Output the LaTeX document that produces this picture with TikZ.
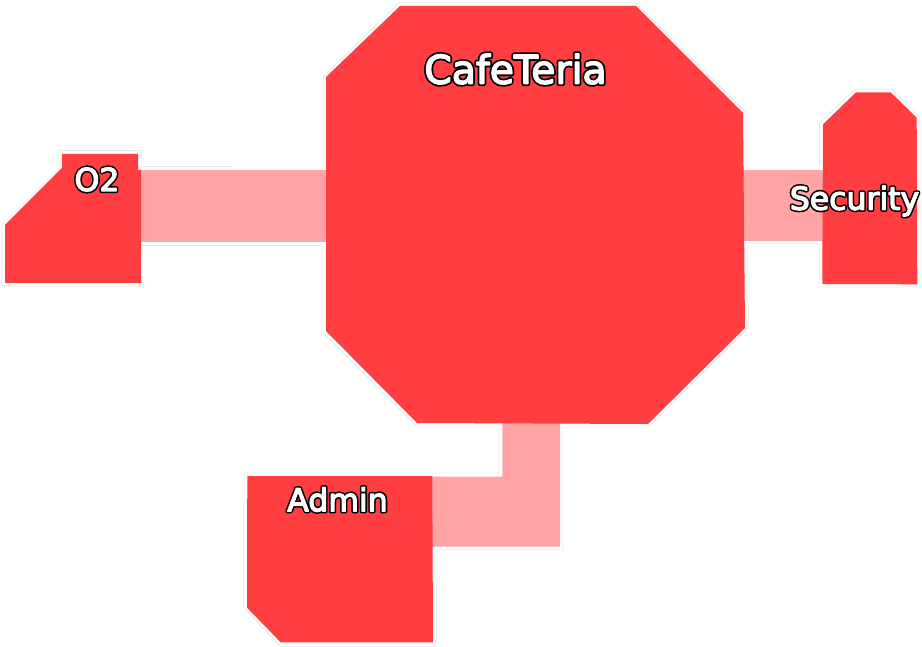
\documentclass[tikz,border=0pt]{standalone}
\usepackage{fontspec}
\setmainfont{DejaVu Sans}
\definecolor{roomred}{HTML}{FF3E42}
\definecolor{hallpink}{HTML}{FFA3A5}
\newcommand{\outlined}[3]{\rlap{\special{pdf:code q 2 Tr 1 j #1 w 0 G 0 g}#3\special{pdf:code Q}}\special{pdf:code q 2 Tr 1 j #2 w 1 G 1 g}#3\special{pdf:code Q}}
\tikzset{
  room/.style={fill=roomred,draw=none},
  hall/.style={fill=hallpink,draw=none},
  halo/.style={draw=black!9,line width=0.8pt,fill=none},
  biglabel/.style={inner sep=0pt,font=\fontsize{39.3}{39.3}\selectfont},
  roomlabel/.style={inner sep=0pt,font=\fontsize{31.5}{31.5}\selectfont}
}
\begin{document}
\begin{tikzpicture}[x=1pt,y=-1pt]
\useasboundingbox (0,0) rectangle (922,647);
% faint outlines
\draw[halo] (141,166)--(232,166);
\draw[halo] (145,286)--(2,286)--(2,224.5)--(59,169)--(59,150.5)--(141,150.5)--(141,166);
\draw[halo] (141,245)--(322,245);
\draw[halo] (323,170)--(323,77)--(399,3)--(636,3)--(746,112)--(746,170);
\draw[halo] (748,244)--(748,328)--(649,427)--(560,427);
\draw[halo] (322,245)--(322,332)--(416,426)--(499,426)--(499,474);
\draw[halo] (748,244)--(819,244)--(819,287)--(920,287)--(920,117)--(892,89)--(855,89)--(819.5,123)--(819.5,166);
\draw[halo] (499,473)--(244,473)--(244,608)--(280,646)--(436,646)--(436,550)--(563,550)--(563,427);
% halls
\path[hall] (141,170)--(326,170)--(326,241.7)--(141,241.7)--cycle;
\path[hall] (743,170)--(823,170)--(823,240.7)--(743,240.7)--cycle;
\path[hall] (502.3,423)--(560,423)--(560,546.7)--(432,546.7)--(432,476.7)--(502.3,476.7)--cycle;
% rooms
\path[room] (400,6)--(636,6)--(743,113)--(745,328)--(648,424)--(417,423)--(326,331)--(326,77)--cycle;
\path[room] (62,154)--(138,154)--(138,170)--(141,170)--(141,283)--(5,283)--(5,225)--(62,168)--cycle;
\path[room] (856,92.3)--(890.7,92.3)--(916.7,117.7)--(917.3,284.3)--(822.3,284)--(823,124.3)--cycle;
\path[room] (247.3,476)--(432.3,476)--(433,642.3)--(280.7,642.3)--(247,607.7)--cycle;
% labels
\node[biglabel] (cafe) at (515.5,69) {\outlined{5}{1.5}{CafeTeria}};
\node[roomlabel] (o2) at (97,179.5) {\outlined{4.4}{1.3}{O2}};
\node[roomlabel] (sec) at (854.5,201) {\outlined{4.4}{1.3}{Security}};
\node[roomlabel] (admin) at (337.5,499.5) {\outlined{4.4}{1.3}{Admin}};
\end{tikzpicture}
\end{document}
